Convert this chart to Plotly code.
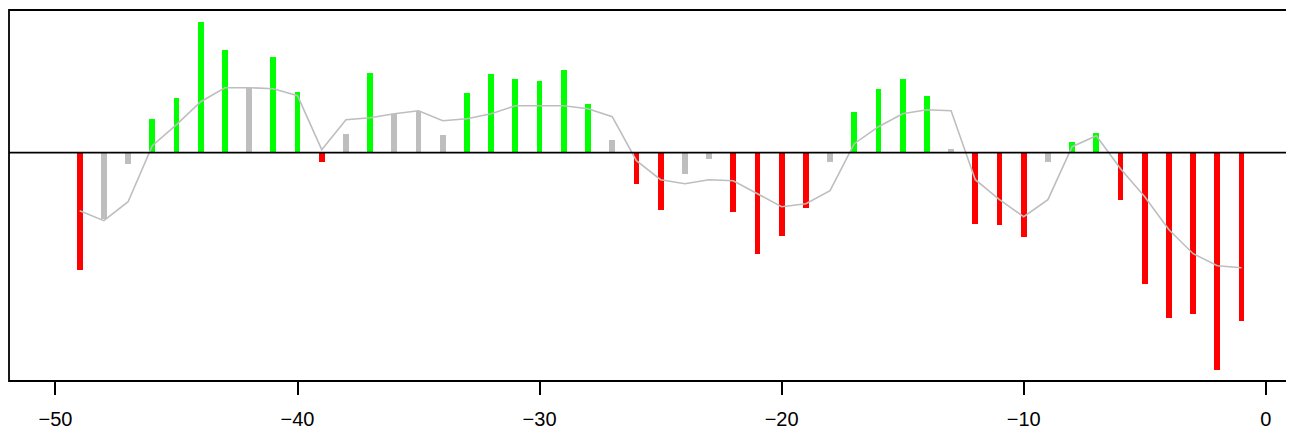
import plotly.graph_objects as go

lags = list(range(-49, 0))
values = [-11.7, -6.6, -1.1, 3.4, 5.5, 13.1, 10.3, 6.5, 9.6, 6.1,
          -0.9, 1.9, 8.0, 3.9, 4.2, 1.8, 6.0, 7.9, 7.4, 7.2,
          8.3, 4.9, 1.3, -3.1, -5.7, -2.1, -0.6, -5.9, -10.1, -8.3,
          -5.5, -0.9, 4.1, 6.4, 7.4, 5.7, 0.4, -7.1, -7.2, -8.4,
          -0.9, 1.1, 2.0, -4.7, -13.1, -16.5, -16.1, -21.7, -16.8]
colors = ["r", "g0", "g0", "g", "g", "g", "g", "g0", "g", "g",
          "r", "g0", "g", "g0", "g0", "g0", "g", "g", "g", "g",
          "g", "g", "g0", "r", "r", "g0", "g0", "r", "r", "r",
          "r", "g0", "g", "g", "g", "g", "g0", "r", "r", "r",
          "g0", "g", "g", "r", "r", "r", "r", "r", "r"]
smooth = [-5.8, -6.8, -4.9, 0.7, 2.8, 5.1, 6.5, 6.5, 6.4, 5.7,
          0.3, 3.3, 3.5, 3.9, 4.2, 3.2, 3.4, 3.9, 4.7, 4.7,
          4.7, 4.4, 3.6, -0.8, -2.7, -3.1, -2.7, -2.8, -4.1, -5.4,
          -5.1, -3.8, 0.9, 2.6, 3.9, 4.3, 4.2, -2.7, -4.7, -6.4,
          -4.7, 0.6, 1.7, -1.6, -4.4, -7.7, -10.1, -11.3, -11.5]
x_ticks = [-50, -40, -30, -20, -10, 0]

cmap = {"r": "#FF0000", "g": "#00FF00", "g0": "#BEBEBE"}

fig = go.Figure()
fig.add_trace(go.Bar(x=lags, y=values, width=0.24,
                     marker=dict(color=[cmap[c] for c in colors], line=dict(width=0)),
                     showlegend=False, hoverinfo="x+y"))
fig.add_trace(go.Scatter(x=lags, y=smooth, mode="lines",
                         line=dict(color="#BEBEBE", width=1.6),
                         showlegend=False))
fig.add_shape(type="line", xref="paper", x0=0, x1=1, yref="y", y0=0, y1=0,
              line=dict(color="black", width=1.8), layer="above")
fig.add_shape(type="rect", xref="paper", x0=0, x1=1, yref="paper", y0=0, y1=1,
              line=dict(color="black", width=1.8), fillcolor="rgba(0,0,0,0)",
              layer="above")

fig.update_layout(
    width=1286, height=424,
    margin=dict(l=1, r=5, t=2, b=51, pad=0),
    paper_bgcolor="white", plot_bgcolor="white",
    font=dict(family="Liberation Sans, Arial, sans-serif", size=20, color="black"),
    xaxis=dict(range=[-51.92, 0.96], tickvals=x_ticks,
               ticktext=["\u221250", "\u221240", "\u221230", "\u221220", "\u221210", "0"],
               ticks="outside", ticklen=13, tickwidth=1.8, tickcolor="black",
               ticklabelstandoff=7,
               showline=False, showgrid=False, zeroline=False),
    yaxis=dict(range=[-22.83, 14.27], showticklabels=False, ticks="",
               showline=False, showgrid=False, zeroline=False),
    bargap=0,
)

fig.write_html("out.html")
